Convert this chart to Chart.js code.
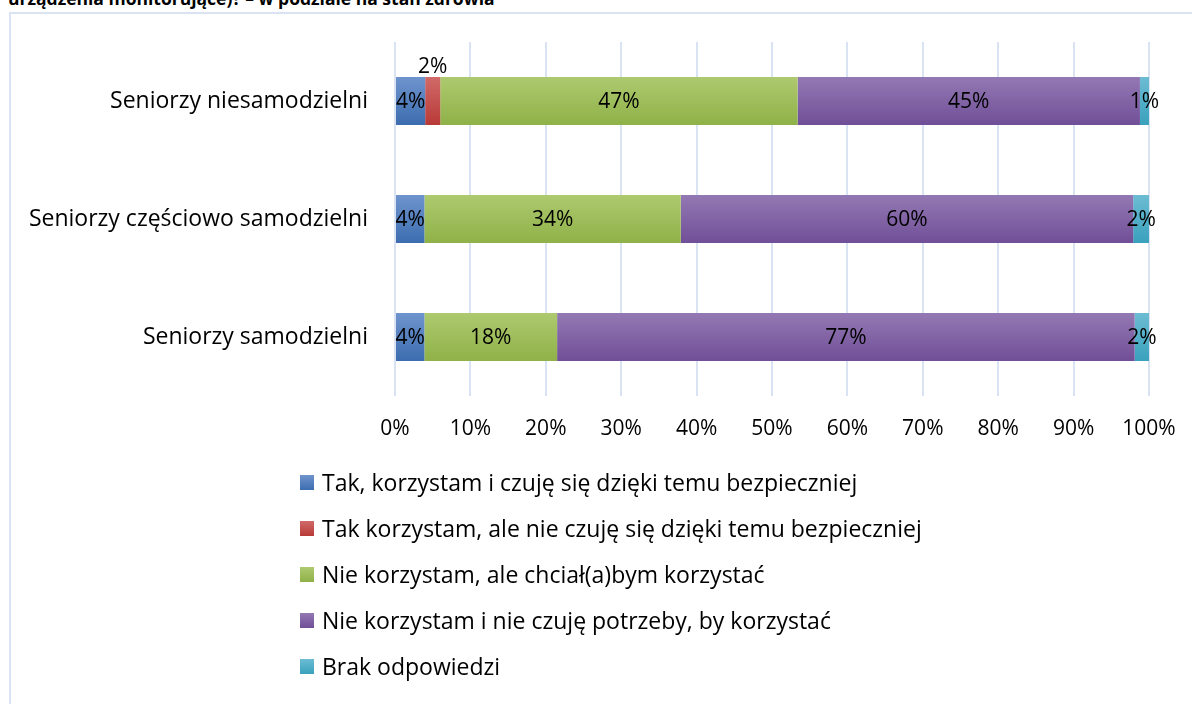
<!DOCTYPE html>
<html lang="pl">
<head>
<meta charset="utf-8">
<title>Stan zdrowia – urządzenia monitorujące</title>
<script src="https://cdn.jsdelivr.net/npm/chart.js@4.4.1/dist/chart.umd.min.js"></script>
<style>
  html, body { margin: 0; padding: 0; background: #fff; }
  body { width: 1192px; height: 704px; position: relative; overflow: hidden; font-family: "Open Sans", sans-serif; color: #000; }
  #title { position: absolute; left: 8px; top: -13px; font-weight: bold; font-size: 17.5px; line-height: 22px; white-space: nowrap; }
  #frame { position: absolute; left: 9px; top: 12px; width: 1300px; height: 800px; border: 2px solid #d9e3f3; box-sizing: border-box; }
  #chart-box { position: absolute; left: 0; top: 0; width: 1192px; height: 460px; }
  #legend { position: absolute; left: 300px; top: 459px; }
  .legend-item { display: flex; align-items: center; height: 46px; font-size: 23px; }
  .legend-color { width: 14px; height: 15px; margin-right: 8px; }
</style>
</head>
<body>
<div id="title">urządzenia monitorujące)? – w podziale na stan zdrowia</div>
<div id="frame"></div>
<div id="chart-box"><canvas id="chart" width="1192" height="460"></canvas></div>
<div id="legend"></div>

<script>
const CATEGORIES = ['Seniorzy niesamodzielni', 'Seniorzy częściowo samodzielni', 'Seniorzy samodzielni'];
const SERIES_NAMES = [
  'Tak, korzystam i czuję się dzięki temu bezpieczniej',
  'Tak korzystam, ale nie czuję się dzięki temu bezpieczniej',
  'Nie korzystam, ale chciał(a)bym korzystać',
  'Nie korzystam i nie czuję potrzeby, by korzystać',
  'Brak odpowiedzi',
];
const TAK_BEZPIECZNIEJ = [4.0, 3.9, 3.9];
const TAK_NIE_BEZPIECZNIEJ = [2.0, 0, 0];
const CHCIALBYM = [47.4, 34.0, 17.6];
const NIE_POTRZEBY = [45.4, 60.0, 76.6];
const BRAK = [1.2, 2.1, 1.9];
const X_TICKS = [0, 10, 20, 30, 40, 50, 60, 70, 80, 90, 100];

// [top, bottom] colours of the bar gradient
const COLORS = [
  ['#6f94cd', '#3c6daf'],
  ['#d06a68', '#b83a37'],
  ['#aec96f', '#8fb148'],
  ['#9379b3', '#714f98'],
  ['#6cbcd3', '#3aa1bd'],
];

const FONT = '"Open Sans", sans-serif';

function barGradient(ctx, colors) {
  const chart = ctx.chart;
  const y = chart.scales.y;
  if (!chart.chartArea || !y || ctx.dataIndex === undefined) return colors[1];
  const center = y.getPixelForValue(ctx.dataIndex);
  const half = 24;
  const g = chart.ctx.createLinearGradient(0, center - half, 0, center + half);
  g.addColorStop(0, colors[0]);
  g.addColorStop(1, colors[1]);
  return g;
}

const valueLabels = {
  id: 'valueLabels',
  afterDatasetsDraw(chart) {
    const c = chart.ctx;
    c.save();
    c.font = '21px ' + FONT;
    c.fillStyle = '#000';
    c.textAlign = 'center';
    c.textBaseline = 'middle';
    chart.data.datasets.forEach((ds, di) => {
      const meta = chart.getDatasetMeta(di);
      meta.data.forEach((bar, i) => {
        const v = ds.data[i];
        if (!v) return;
        const cx = (bar.x + bar.base) / 2;
        let cy = bar.y;
        if (di === 1) cy = bar.y - bar.height / 2 - 11; // too narrow, label above
        c.fillText(Math.round(v) + '%', cx, cy + 1);
      });
    });
    c.restore();
  },
};

const allSeries = [TAK_BEZPIECZNIEJ, TAK_NIE_BEZPIECZNIEJ, CHCIALBYM, NIE_POTRZEBY, BRAK];

const datasets = allSeries.map((data, i) => ({
  label: SERIES_NAMES[i],
  data: data,
  backgroundColor: ctx => barGradient(ctx, COLORS[i]),
  borderWidth: 0,
  categoryPercentage: 1,
  barPercentage: 0.407,
}));

// Legend
const legendEl = document.getElementById('legend');
SERIES_NAMES.forEach((name, i) => {
  const item = document.createElement('div');
  item.className = 'legend-item';
  item.innerHTML = `<div class="legend-color" style="background: linear-gradient(${COLORS[i][0]}, ${COLORS[i][1]});"></div>${name}`;
  legendEl.appendChild(item);
});

new Chart(document.getElementById('chart'), {
  type: 'bar',
  data: { labels: CATEGORIES, datasets },
  plugins: [valueLabels],
  options: {
    indexAxis: 'y',
    responsive: false,
    animation: false,
    layout: { padding: { left: 0, right: 43, top: 42, bottom: 0 } },
    plugins: {
      legend: { display: false },
      tooltip: { enabled: false },
    },
    scales: {
      x: {
        stacked: true,
        min: 0,
        max: 100,
        afterBuildTicks: axis => { axis.ticks = X_TICKS.map(v => ({ value: v })); },
        afterFit: axis => {
          axis.height = 64;
          axis.paddingLeft = 0;
          axis.paddingRight = 0;
        },
        grid: { color: '#d9e3f3', lineWidth: 2, drawTicks: false },
        border: { display: false },
        ticks: {
          color: '#000',
          font: { family: FONT, size: 21 },
          padding: 20,
          maxRotation: 0,
          callback: v => v + '%',
        },
      },
      y: {
        stacked: true,
        afterFit: axis => { axis.width = 395; },
        grid: { display: false },
        border: { display: false },
        ticks: {
          color: '#000',
          font: { family: FONT, size: 23 },
          padding: 19,
        },
      },
    },
  },
});
</script>
</body>
</html>
